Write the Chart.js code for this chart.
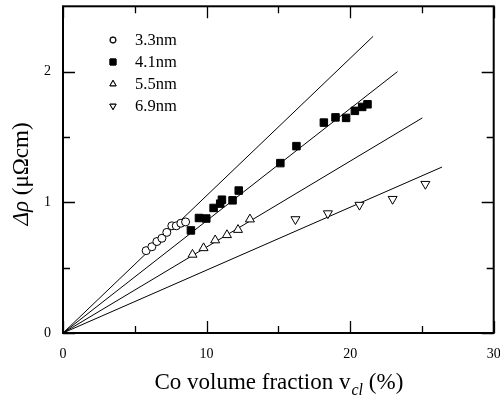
<!DOCTYPE html>
<html>
<head>
<meta charset="utf-8">
<script src="https://cdn.jsdelivr.net/npm/chart.js@4.4.1/dist/chart.umd.min.js"></script>
<style>
  html, body { margin: 0; padding: 0; background: #fff; }
  #wrap { width: 500px; height: 402px; position: relative; }
</style>
</head>
<body>
<div id="wrap"><canvas id="chart"></canvas></div>
<script>
// data
const labels33 = "3.3nm", labels41 = "4.1nm", labels55 = "5.5nm", labels69 = "6.9nm";

const x33 = [5.79, 6.19, 6.54, 6.89, 7.23, 7.58, 7.89, 8.21, 8.54];
const y33 = [0.63, 0.66, 0.70, 0.725, 0.77, 0.82, 0.82, 0.84, 0.85];

const x41 = [8.91, 9.47, 9.98, 10.49, 10.95, 11.07, 11.81, 12.24, 15.14, 16.26, 18.17, 18.98, 19.72, 20.33, 20.84, 21.21];
const y41 = [0.785, 0.88, 0.876, 0.957, 0.99, 1.02, 1.015, 1.09, 1.30, 1.43, 1.61, 1.65, 1.646, 1.70, 1.73, 1.75];

const x55 = [9.02, 9.79, 10.6, 11.42, 12.19, 13.02];
const y55 = [0.60, 0.65, 0.71, 0.75, 0.79, 0.87];

const x69 = [16.19, 18.45, 20.65, 22.96, 25.24];
const y69 = [0.87, 0.915, 0.98, 1.025, 1.14];

// fitted lines through origin: [end x, end y]
const fitEnds = [[21.6, 2.27], [23.3, 2.0], [25.03, 1.646], [26.4, 1.27]];

const xTicks = [0, 10, 20, 30];
const xMinor = [5, 15, 25];
const yTicks = [0, 1, 2];
const yMinor = [0.5, 1.5];

const FONT = "'Liberation Serif', 'Times New Roman', serif";

function pts(xs, ys) {
  return xs.map((x, i) => ({ x: x, y: ys[i] }));
}

const markerSets = [
  { label: labels33, data: pts(x33, y33), pointStyle: "circle", pointRadius: 4, legendRadius: 2.8, backgroundColor: "#fff", rotation: 0 },
  { label: labels41, data: pts(x41, y41), pointStyle: "rect", pointRadius: 5.3, legendRadius: 4.2, backgroundColor: "#000", rotation: 0 },
  { label: labels55, data: pts(x55, y55), pointStyle: "triangle", pointRadius: 5.2, legendRadius: 3.6, backgroundColor: "#fff", rotation: 0 },
  { label: labels69, data: pts(x69, y69), pointStyle: "triangle", pointRadius: 5.2, legendRadius: 3.6, backgroundColor: "#fff", rotation: 180 }
];

const datasets = [];
fitEnds.forEach(function (e, i) {
  datasets.push({
    label: "fit" + i,
    data: [{ x: 0, y: 0 }, { x: e[0], y: e[1] }],
    showLine: true,
    borderColor: "#000",
    borderWidth: 1,
    pointRadius: 0,
    order: 2
  });
});
markerSets.forEach(function (m) {
  datasets.push({
    label: m.label,
    data: m.data,
    showLine: false,
    pointStyle: m.pointStyle,
    pointRadius: m.pointRadius,
    pointRotation: m.rotation,
    pointBackgroundColor: m.backgroundColor,
    pointBorderColor: "#000",
    pointBorderWidth: 1,
    order: 1
  });
});

// ---------------------------
// frame, inward ticks, titles, legend
// ---------------------------
const decor = {
  id: "decor",
  afterDraw(chart) {
    const ctx = chart.ctx;
    const a = chart.chartArea;
    const xs = chart.scales.x, ys = chart.scales.y;
    ctx.save();
    ctx.strokeStyle = "#000";

    // frame
    ctx.lineWidth = 2;
    ctx.strokeRect(a.left, a.top, a.right - a.left, a.bottom - a.top);

    // ticks
    ctx.lineWidth = 1.3;
    ctx.beginPath();
    function xt(v, len) {
      const p = Math.round(xs.getPixelForValue(v)) + 0.5;
      ctx.moveTo(p, a.bottom); ctx.lineTo(p, a.bottom - len);
      ctx.moveTo(p, a.top); ctx.lineTo(p, a.top + len);
    }
    function yt(v, len) {
      const p = Math.round(ys.getPixelForValue(v)) + 0.5;
      ctx.moveTo(a.left, p); ctx.lineTo(a.left + len, p);
      ctx.moveTo(a.right, p); ctx.lineTo(a.right - len, p);
    }
    xTicks.forEach(v => xt(v, 12));
    xMinor.forEach(v => xt(v, 7));
    yTicks.forEach(v => yt(v, 12));
    yMinor.forEach(v => yt(v, 7));
    ctx.stroke();

    ctx.fillStyle = "#000";

    // x title with subscript
    const cx = (a.left + a.right) / 2;
    const base = 389;
    const p1 = "Co volume fraction v";
    const sub = "cl";
    const p2 = " (%)";
    ctx.font = "23px " + FONT;
    const w1 = ctx.measureText(p1).width;
    const w3 = ctx.measureText(p2).width;
    ctx.font = "italic 16px " + FONT;
    const w2 = ctx.measureText(sub).width;
    let sx = cx - (w1 + w2 + w3) / 2;
    ctx.textAlign = "left";
    ctx.textBaseline = "alphabetic";
    ctx.font = "23px " + FONT;
    ctx.fillText(p1, sx, base);
    ctx.font = "italic 16px " + FONT;
    ctx.fillText(sub, sx + w1 + 1, base + 6);
    ctx.font = "23px " + FONT;
    ctx.fillText(p2, sx + w1 + w2 + 1, base);

    // y title rotated
    ctx.save();
    ctx.translate(28, 174);
    ctx.rotate(-Math.PI / 2);
    const t1 = "\u0394\u03C1";
    const t2 = " (\u03BC\u03A9cm)";
    ctx.font = "italic 23px " + FONT;
    const tw1 = ctx.measureText(t1).width;
    ctx.font = "23px " + FONT;
    const tw2 = ctx.measureText(t2).width;
    let ty = -(tw1 + tw2) / 2;
    ctx.font = "italic 23px " + FONT;
    ctx.fillText(t1, ty, 0);
    ctx.font = "23px " + FONT;
    ctx.fillText(t2, ty + tw1, 0);
    ctx.restore();

    // legend
    const rowsY = [40, 62, 84, 106];
    ctx.font = "16.5px " + FONT;
    ctx.textBaseline = "middle";
    markerSets.forEach(function (m, i) {
      const y = rowsY[i];
      Chart.helpers.drawPoint(ctx, {
        pointStyle: m.pointStyle,
        radius: m.legendRadius,
        rotation: m.rotation,
        borderWidth: 1
      }, 113, y);
      ctx.fillStyle = m.backgroundColor;
      ctx.strokeStyle = "#000";
      ctx.lineWidth = 1;
      ctx.fill();
      ctx.stroke();
      ctx.fillStyle = "#000";
      ctx.fillText(m.label, 135, y + 1);
    });

    ctx.restore();
  }
};

new Chart(document.getElementById("chart"), {
  type: "scatter",
  data: { datasets: datasets },
  options: {
    responsive: true,
    maintainAspectRatio: false,
    animation: false,
    layout: { padding: { left: 0, right: 6, top: 3, bottom: 0 } },
    plugins: { legend: { display: false }, tooltip: { enabled: false } },
    scales: {
      x: {
        type: "linear",
        min: 0,
        max: 30,
        grid: { display: false, drawTicks: false },
        border: { display: false },
        afterBuildTicks(s) { s.ticks = xTicks.map(v => ({ value: v })); },
        afterFit(s) { s.height = 69; s.paddingLeft = 0; s.paddingRight = 0; },
        ticks: {
          padding: 13,
          color: "#000",
          font: { family: FONT, size: 14 },
          maxRotation: 0
        }
      },
      y: {
        type: "linear",
        min: 0,
        max: 2.5,
        grid: { display: false, drawTicks: false },
        border: { display: false },
        afterBuildTicks(s) { s.ticks = yTicks.map(v => ({ value: v })); },
        afterFit(s) { s.width = 63; s.paddingTop = 0; s.paddingBottom = 0; },
        ticks: {
          padding: 12,
          color: "#000",
          font: { family: FONT, size: 14 }
        }
      }
    }
  },
  plugins: [decor]
});
</script>
</body>
</html>
